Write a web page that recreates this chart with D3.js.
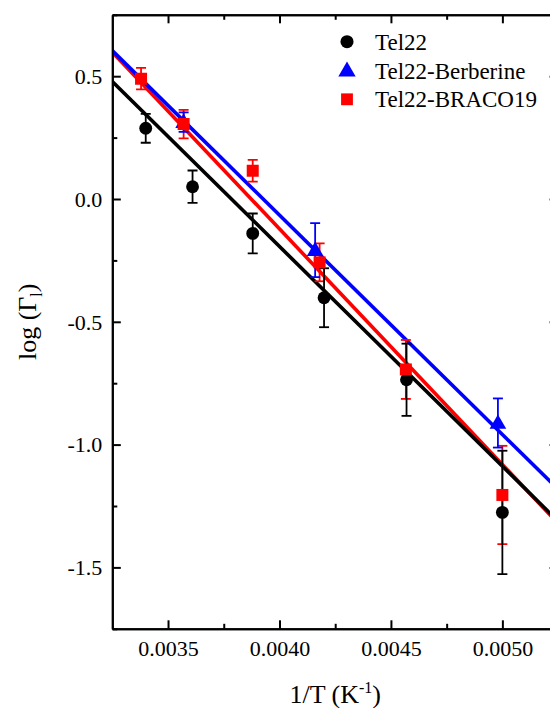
<!DOCTYPE html>
<html>
<head>
<meta charset="utf-8">
<script src="https://cdn.jsdelivr.net/npm/d3@7"></script>
<style>
  html, body { margin: 0; padding: 0; background: #fff; }
  svg { display: block; }
  text { font-family: "Liberation Serif", "Times New Roman", serif; fill: #000; }
</style>
</head>
<body>
<svg id="chart" width="550" height="708"></svg>
<script>
// ---------- data ----------
const xDomain = [0.00325, 0.00525];
const yDomain = [-1.75, 0.75];

const xTickValues = [0.0035, 0.0040, 0.0045, 0.0050];
const xTickLabels = ["0.0035", "0.0040", "0.0045", "0.0050"];
const xMinorTicks = [0.00375, 0.00425, 0.00475, 0.00525];
const yTickValues = [0.5, 0.0, -0.5, -1.0, -1.5];
const yTickLabels = ["0.5", "0.0", "-0.5", "-1.0", "-1.5"];
const yMinorTicks = [0.25, -0.25, -0.75, -1.25, -1.75, 0.75];

const seriesNames = ["Tel22", "Tel22-Berberine", "Tel22-BRACO19"];
const seriesColors = ["#000000", "#0000ff", "#ff0000"];

const tel22X   = [0.00340, 0.00361, 0.00388, 0.00420, 0.00457, 0.00500];
const tel22Y   = [0.288, 0.050, -0.140, -0.402, -0.736, -1.276];
const tel22Err = [0.059, 0.066, 0.081, 0.120, 0.147, 0.251];

const berbX   = [0.00357, 0.00416, 0.00498];
const berbY   = [0.313, -0.208, -0.912];
const berbErr = [0.040, 0.110, 0.100];

const bracoX   = [0.003379, 0.00357, 0.00388, 0.00418, 0.004567, 0.00500];
const bracoY   = [0.490, 0.305, 0.115, -0.258, -0.694, -1.205];
const bracoErr = [0.044, 0.058, 0.044, 0.077, 0.120, 0.200];

// linear fit lines: values at the two ends of the x range
const fitX     = [0.00325, 0.00525];
const tel22Fit = [0.478, -1.312];
const berbFit  = [0.604, -1.182];
const bracoFit = [0.598, -1.321];

// ---------- layout ----------
const svg = d3.select("#chart");
const L = 112.3, R = 558.1, T = 14.8, B = 628.8;
const x = d3.scaleLinear().domain(xDomain).range([L, R]);
const y = d3.scaleLinear().domain(yDomain).range([B, T]);

const defs = svg.append("defs");
defs.append("clipPath").attr("id", "plotclip")
  .append("rect").attr("x", L).attr("y", T).attr("width", R - L).attr("height", B - T);

const plot = svg.append("g").attr("clip-path", "url(#plotclip)");

function pts(xs, ys, es) { return xs.map((v, i) => ({x: v, y: ys[i], e: es ? es[i] : 0})); }
const tel22 = pts(tel22X, tel22Y, tel22Err);
const berb  = pts(berbX, berbY, berbErr);
const braco = pts(bracoX, bracoY, bracoErr);

// fit lines (red under, then black, then blue)
const line = d3.line().x(d => x(d.x)).y(d => y(d.y));
[[bracoFit, "#ff0000"], [tel22Fit, "#000000"], [berbFit, "#0000ff"]].forEach(([f, c]) => {
  plot.append("path").datum(pts(fitX, f))
    .attr("d", line).attr("fill", "none").attr("stroke", c).attr("stroke-width", 3.6);
});

// error bars
function errorBars(data, color) {
  const g = plot.append("g").attr("stroke", color).attr("stroke-width", 1.8).attr("fill", "none");
  data.forEach(d => {
    const cx = x(d.x), y1 = y(d.y + d.e), y2 = y(d.y - d.e);
    g.append("line").attr("x1", cx).attr("x2", cx).attr("y1", y1).attr("y2", y2);
    g.append("line").attr("x1", cx - 5).attr("x2", cx + 5).attr("y1", y1).attr("y2", y1);
    g.append("line").attr("x1", cx - 5).attr("x2", cx + 5).attr("y1", y2).attr("y2", y2);
  });
}
errorBars(braco, "#ff0000");
errorBars(berb, "#0000ff");
errorBars(tel22, "#000000");

// markers
const circleSym = d3.symbol().type(d3.symbolCircle).size(130);
const triSym = d3.symbol().type(d3.symbolTriangle).size(120);
const sqSym = d3.symbol().type(d3.symbolSquare).size(144);

plot.append("g").selectAll("path").data(tel22).join("path")
  .attr("d", circleSym).attr("transform", d => `translate(${x(d.x)},${y(d.y)})`).attr("fill", "#000");
plot.append("g").selectAll("path").data(berb).join("path")
  .attr("d", triSym).attr("transform", d => `translate(${x(d.x)},${y(d.y) + 1})`).attr("fill", "#0000ff");
plot.append("g").selectAll("path").data(braco).join("path")
  .attr("d", sqSym).attr("transform", d => `translate(${x(d.x)},${y(d.y)})`).attr("fill", "#ff0000");

// ---------- axes ----------
function styleAxis(g) {
  g.select(".domain").attr("stroke", "#000").attr("stroke-width", 2);
  g.selectAll(".tick line").attr("stroke", "#000").attr("stroke-width", 2);
  g.selectAll(".tick text").style("font-size", "22px").style("font-family", "'Liberation Serif','Times New Roman',serif").attr("fill", "#000");
}
const xMap = new Map(xTickValues.map((v, i) => [v, xTickLabels[i]]));
const yMap = new Map(yTickValues.map((v, i) => [v, yTickLabels[i]]));

// bottom
svg.append("g").attr("transform", `translate(0,${B})`)
  .call(d3.axisBottom(x).tickValues(xMinorTicks).tickSize(-5).tickSizeOuter(0).tickFormat(""))
  .call(styleAxis);
svg.append("g").attr("transform", `translate(0,${B})`)
  .call(d3.axisBottom(x).tickValues(xTickValues).tickSize(-8.5).tickSizeOuter(0).tickPadding(12)
    .tickFormat(d => xMap.get(d)))
  .call(styleAxis);
// top
svg.append("g").attr("transform", `translate(0,${T})`)
  .call(d3.axisTop(x).tickValues(xMinorTicks).tickSize(-5).tickSizeOuter(0).tickFormat(""))
  .call(styleAxis);
svg.append("g").attr("transform", `translate(0,${T})`)
  .call(d3.axisTop(x).tickValues(xTickValues).tickSize(-8.5).tickSizeOuter(0).tickFormat(""))
  .call(styleAxis);
// left
svg.append("g").attr("transform", `translate(${L},0)`)
  .call(d3.axisLeft(y).tickValues(yMinorTicks).tickSize(-5).tickSizeOuter(0).tickFormat(""))
  .call(styleAxis);
const yl = svg.append("g").attr("transform", `translate(${L},0)`)
  .call(d3.axisLeft(y).tickValues(yTickValues).tickSize(-8.5).tickSizeOuter(0).tickPadding(10)
    .tickFormat(d => yMap.get(d)))
  .call(styleAxis);
yl.selectAll(".tick text").attr("dy", "0.33em");
// right
svg.append("g").attr("transform", `translate(${R},0)`)
  .call(d3.axisRight(y).tickValues(yMinorTicks).tickSize(-5).tickSizeOuter(0).tickFormat(""))
  .call(styleAxis);
svg.append("g").attr("transform", `translate(${R},0)`)
  .call(d3.axisRight(y).tickValues(yTickValues).tickSize(-8.5).tickSizeOuter(0).tickFormat(""))
  .call(styleAxis);

// ---------- axis titles ----------
const xt = svg.append("text").attr("x", (L + R) / 2).attr("y", 703)
  .attr("text-anchor", "middle").style("font-size", "26px");
xt.append("tspan").text("1/T (K");
xt.append("tspan").attr("dy", "-10").style("font-size", "16px").text("-1");
xt.append("tspan").attr("dy", "10").text(")");

const yt = svg.append("text").attr("transform", `translate(36,${(T + B) / 2}) rotate(-90)`)
  .attr("text-anchor", "middle").style("font-size", "26px");
yt.append("tspan").text("log (Γ");
yt.append("tspan").attr("dy", "6").style("font-size", "16px").text("l");
yt.append("tspan").attr("dy", "-6").text(")");

// ---------- legend ----------
const legSyms = [d3.symbol().type(d3.symbolCircle).size(135),
                 d3.symbol().type(d3.symbolTriangle).size(130),
                 d3.symbol().type(d3.symbolSquare).size(140)];
const legY = [41.7, 70.5, 99.3];
const leg = svg.append("g");
seriesNames.forEach((name, i) => {
  leg.append("path").attr("d", legSyms[i]).attr("fill", seriesColors[i])
    .attr("transform", `translate(347,${legY[i] + (i === 1 ? 1 : 0)})`);
  leg.append("text").attr("x", 375).attr("y", legY[i] + 8).style("font-size", "23px").text(name);
});
</script>
</body>
</html>
